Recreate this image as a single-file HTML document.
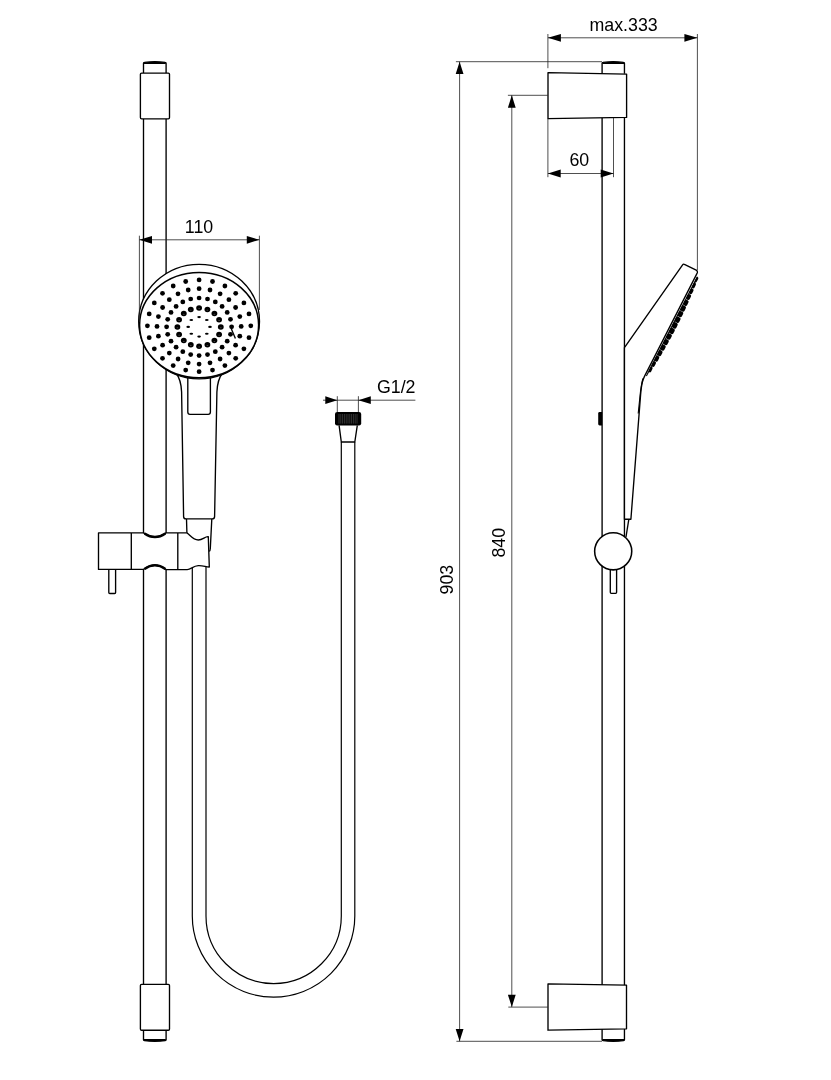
<!DOCTYPE html>
<html><head><meta charset="utf-8"><title>Shower rail dimensions</title>
<style>html,body{margin:0;padding:0;background:#fff}svg{display:block;filter:grayscale(1)}text{font-family:"Liberation Sans",Arial,sans-serif;font-size:17.8px;fill:#000}.k{fill:none;stroke:#000;stroke-width:1.35;stroke-linejoin:round;stroke-linecap:butt}.kw{fill:#fff;stroke:#000;stroke-width:1.35;stroke-linejoin:round}.t{fill:none;stroke:#222;stroke-width:0.8}.a{fill:#000;stroke:none}</style></head><body>
<svg width="831" height="1080" viewBox="0 0 831 1080">
<rect width="831" height="1080" fill="#fff"/>
<g id="front">
<path class="k" d="M143.5 118.8V532.9M166.1 118.8V532.9M143.5 569.4V984.4M166.1 569.4V984.4"/>
<path class="kw" d="M143.5 73.2V63.2Q143.5 62.5 144.4 62.4Q154.8 60.9 165.2 62.4Q166.1 62.5 166.1 63.2V73.2"/>
<path class="a" d="M143.8 62.5Q154.8 60.8 165.79999999999998 62.5V63.9H143.8Z"/>
<rect class="kw" x="140.4" y="73.1" width="29.1" height="45.7" rx="1.2"/>
<path class="kw" d="M143.5 1030.2V1039.7Q143.5 1040.4 144.4 1040.5Q154.8 1042.0 165.2 1040.5Q166.1 1040.4 166.1 1039.7V1030.2"/>
<path class="a" d="M143.8 1040.4Q154.8 1042.1000000000001 165.79999999999998 1040.4V1039.0H143.8Z"/>
<rect class="kw" x="140.4" y="984.4" width="29.1" height="45.8" rx="1.2"/>
<path class="k" style="stroke-width:1.2" d="M192.3 568V915.9A81.25 81.25 0 0 0 354.8 915.9V442M206.0 566.5V915.9A67.65 67.65 0 0 0 341.3 915.9V442"/>
<path class="k" d="M339.1 425.4L341.3 442H354.8L357.3 425.4"/>
<rect x="335" y="411.9" width="26.2" height="13.6" rx="2.2" fill="#000"/>
<path d="M339.0 414V423.6M340.8 414V423.6M342.6 414V423.6M344.4 414V423.6M346.2 414V423.6M348.0 414V423.6M349.8 414V423.6M351.6 414V423.6M353.4 414V423.6M355.2 414V423.6M357.0 414V423.6" stroke="#4a4a4a" stroke-width="0.7" fill="none"/>
<path class="kw" d="M175.6 372.5C180 378 181.3 384 181.6 392L183.6 516.6Q183.7 518.9 186 518.9H212.2Q214.5 518.9 214.6 516.6L216.9 392C217.2 384 218.6 378 222.8 372.5Z"/>
<path class="k" d="M187.8 374V412Q187.8 414.3 190 414.3H208.2Q210.4 414.3 210.4 412V374"/>
<path class="k" d="M186.5 519L186.9 532.8M211.8 519L210.3 548.5Q210.2 551 209.2 551.3"/>
<ellipse class="kw" cx="199.1" cy="321.6" rx="60.4" ry="57.3"/>
<ellipse class="kw" cx="199.1" cy="325.1" rx="59.5" ry="52.7" style="stroke-width:1.5"/>
<g class="a"><ellipse cx="199.1" cy="279.9" rx="2.4" ry="2.4"/><ellipse cx="212.5" cy="281.5" rx="2.4" ry="2.4"/><ellipse cx="224.9" cy="286.0" rx="2.4" ry="2.4"/><ellipse cx="235.7" cy="293.3" rx="2.4" ry="2.4"/><ellipse cx="243.9" cy="302.9" rx="2.4" ry="2.4"/><ellipse cx="249.0" cy="313.9" rx="2.4" ry="2.4"/><ellipse cx="250.8" cy="325.8" rx="2.4" ry="2.4"/><ellipse cx="249.0" cy="337.7" rx="2.4" ry="2.4"/><ellipse cx="243.9" cy="348.8" rx="2.4" ry="2.4"/><ellipse cx="235.7" cy="358.3" rx="2.4" ry="2.4"/><ellipse cx="224.9" cy="365.6" rx="2.4" ry="2.4"/><ellipse cx="212.5" cy="370.1" rx="2.4" ry="2.4"/><ellipse cx="199.1" cy="371.7" rx="2.4" ry="2.4"/><ellipse cx="185.7" cy="370.1" rx="2.4" ry="2.4"/><ellipse cx="173.2" cy="365.6" rx="2.4" ry="2.4"/><ellipse cx="162.5" cy="358.3" rx="2.4" ry="2.4"/><ellipse cx="154.3" cy="348.8" rx="2.4" ry="2.4"/><ellipse cx="149.2" cy="337.7" rx="2.4" ry="2.4"/><ellipse cx="147.4" cy="325.8" rx="2.4" ry="2.4"/><ellipse cx="149.2" cy="313.9" rx="2.4" ry="2.4"/><ellipse cx="154.3" cy="302.9" rx="2.4" ry="2.4"/><ellipse cx="162.5" cy="293.3" rx="2.4" ry="2.4"/><ellipse cx="173.2" cy="286.0" rx="2.4" ry="2.4"/><ellipse cx="185.7" cy="281.5" rx="2.4" ry="2.4"/><ellipse cx="199.1" cy="288.7" rx="2.4" ry="2.4"/><ellipse cx="210.0" cy="290.0" rx="2.4" ry="2.4"/><ellipse cx="220.1" cy="293.8" rx="2.4" ry="2.4"/><ellipse cx="228.9" cy="299.7" rx="2.4" ry="2.4"/><ellipse cx="235.6" cy="307.5" rx="2.4" ry="2.4"/><ellipse cx="239.8" cy="316.6" rx="2.4" ry="2.4"/><ellipse cx="241.2" cy="326.4" rx="2.4" ry="2.4"/><ellipse cx="239.8" cy="336.2" rx="2.4" ry="2.4"/><ellipse cx="235.6" cy="345.2" rx="2.4" ry="2.4"/><ellipse cx="228.9" cy="353.1" rx="2.4" ry="2.4"/><ellipse cx="220.1" cy="359.0" rx="2.4" ry="2.4"/><ellipse cx="210.0" cy="362.8" rx="2.4" ry="2.4"/><ellipse cx="199.1" cy="364.1" rx="2.4" ry="2.4"/><ellipse cx="188.2" cy="362.8" rx="2.4" ry="2.4"/><ellipse cx="178.1" cy="359.0" rx="2.4" ry="2.4"/><ellipse cx="169.3" cy="353.1" rx="2.4" ry="2.4"/><ellipse cx="162.6" cy="345.2" rx="2.4" ry="2.4"/><ellipse cx="158.4" cy="336.2" rx="2.4" ry="2.4"/><ellipse cx="157.0" cy="326.4" rx="2.4" ry="2.4"/><ellipse cx="158.4" cy="316.6" rx="2.4" ry="2.4"/><ellipse cx="162.6" cy="307.5" rx="2.4" ry="2.4"/><ellipse cx="169.3" cy="299.7" rx="2.4" ry="2.4"/><ellipse cx="178.0" cy="293.8" rx="2.4" ry="2.4"/><ellipse cx="188.2" cy="290.0" rx="2.4" ry="2.4"/><ellipse cx="199.1" cy="298.0" rx="2.4" ry="2.35"/><ellipse cx="207.5" cy="299.0" rx="2.4" ry="2.35"/><ellipse cx="215.3" cy="301.9" rx="2.4" ry="2.35"/><ellipse cx="222.1" cy="306.4" rx="2.4" ry="2.35"/><ellipse cx="227.2" cy="312.4" rx="2.4" ry="2.35"/><ellipse cx="230.5" cy="319.3" rx="2.4" ry="2.35"/><ellipse cx="231.6" cy="326.8" rx="2.4" ry="2.35"/><ellipse cx="230.5" cy="334.3" rx="2.4" ry="2.35"/><ellipse cx="227.2" cy="341.2" rx="2.4" ry="2.35"/><ellipse cx="222.1" cy="347.2" rx="2.4" ry="2.35"/><ellipse cx="215.3" cy="351.7" rx="2.4" ry="2.35"/><ellipse cx="207.5" cy="354.6" rx="2.4" ry="2.35"/><ellipse cx="199.1" cy="355.6" rx="2.4" ry="2.35"/><ellipse cx="190.7" cy="354.6" rx="2.4" ry="2.35"/><ellipse cx="182.8" cy="351.7" rx="2.4" ry="2.35"/><ellipse cx="176.1" cy="347.2" rx="2.4" ry="2.35"/><ellipse cx="171.0" cy="341.2" rx="2.4" ry="2.35"/><ellipse cx="167.7" cy="334.3" rx="2.4" ry="2.35"/><ellipse cx="166.6" cy="326.8" rx="2.4" ry="2.35"/><ellipse cx="167.7" cy="319.3" rx="2.4" ry="2.35"/><ellipse cx="171.0" cy="312.4" rx="2.4" ry="2.35"/><ellipse cx="176.1" cy="306.4" rx="2.4" ry="2.35"/><ellipse cx="182.8" cy="301.9" rx="2.4" ry="2.35"/><ellipse cx="190.7" cy="299.0" rx="2.4" ry="2.35"/><ellipse cx="199.1" cy="307.9" rx="2.9" ry="2.75"/><ellipse cx="207.4" cy="309.4" rx="2.9" ry="2.75"/><ellipse cx="214.4" cy="313.5" rx="2.9" ry="2.75"/><ellipse cx="219.1" cy="319.7" rx="2.9" ry="2.75"/><ellipse cx="220.8" cy="327.1" rx="2.9" ry="2.75"/><ellipse cx="219.1" cy="334.4" rx="2.9" ry="2.75"/><ellipse cx="214.4" cy="340.6" rx="2.9" ry="2.75"/><ellipse cx="207.4" cy="344.7" rx="2.9" ry="2.75"/><ellipse cx="199.1" cy="346.2" rx="2.9" ry="2.75"/><ellipse cx="190.8" cy="344.7" rx="2.9" ry="2.75"/><ellipse cx="183.8" cy="340.6" rx="2.9" ry="2.75"/><ellipse cx="179.1" cy="334.4" rx="2.9" ry="2.75"/><ellipse cx="177.4" cy="327.1" rx="2.9" ry="2.75"/><ellipse cx="179.1" cy="319.7" rx="2.9" ry="2.75"/><ellipse cx="183.8" cy="313.5" rx="2.9" ry="2.75"/><ellipse cx="190.8" cy="309.4" rx="2.9" ry="2.75"/></g>
<g fill="#666"><ellipse cx="199.1" cy="308.6" rx="1" ry="0.35"/><ellipse cx="207.4" cy="310.1" rx="1" ry="0.35"/><ellipse cx="214.4" cy="314.2" rx="1" ry="0.35"/><ellipse cx="219.1" cy="320.4" rx="1" ry="0.35"/><ellipse cx="220.8" cy="327.8" rx="1" ry="0.35"/><ellipse cx="219.1" cy="335.1" rx="1" ry="0.35"/><ellipse cx="214.4" cy="341.3" rx="1" ry="0.35"/><ellipse cx="207.4" cy="345.4" rx="1" ry="0.35"/><ellipse cx="199.1" cy="346.9" rx="1" ry="0.35"/><ellipse cx="190.8" cy="345.4" rx="1" ry="0.35"/><ellipse cx="183.8" cy="341.3" rx="1" ry="0.35"/><ellipse cx="179.1" cy="335.1" rx="1" ry="0.35"/><ellipse cx="177.4" cy="327.8" rx="1" ry="0.35"/><ellipse cx="179.1" cy="320.4" rx="1" ry="0.35"/><ellipse cx="183.8" cy="314.2" rx="1" ry="0.35"/><ellipse cx="190.8" cy="310.1" rx="1" ry="0.35"/></g>
<g class="a"><ellipse cx="199.1" cy="317.1" rx="1.85" ry="1.05"/><ellipse cx="206.8" cy="320.0" rx="1.85" ry="1.05"/><ellipse cx="210.0" cy="326.9" rx="1.85" ry="1.05"/><ellipse cx="206.8" cy="333.8" rx="1.85" ry="1.05"/><ellipse cx="199.1" cy="336.6" rx="1.85" ry="1.05"/><ellipse cx="191.3" cy="333.8" rx="1.85" ry="1.05"/><ellipse cx="188.2" cy="326.9" rx="1.85" ry="1.05"/><ellipse cx="191.3" cy="320.0" rx="1.85" ry="1.05"/></g>
<path class="k" d="M231.4 329L235.4 338.4"/>
<path class="kw" d="M98.5 532.9H143.5Q155 541 166.1 532.9H186.9C190 535 193 540 198.3 540C203 540 205 536.2 208.3 536.7L209.3 567C205 566.6 203 565.4 198.3 565.6C193 565.8 191 569.6 187.2 569.6H166.1Q155 561 143.5 569.4H98.5Z"/>
<path class="k" style="stroke-width:2.4" d="M144.5 533.4Q155 540.6 165.4 533.4M144.5 569Q155 561.6 165.4 569"/>
<path class="k" d="M131.3 532.9V569.4M177.8 532.9V569.4"/>
<path class="k" d="M108.8 569.4V592.5Q108.8 593.5 109.8 593.5H114.6Q115.6 593.5 115.6 592.5V569.4"/>
</g>
<g id="dims">
<path class="t" d="M139.4 235.7V322M259.4 235.7V310M139.4 239.8H259.4"/>
<path class="a" d="M139.4 239.8L152.0 235.9V243.70000000000002ZM259.4 239.8L246.79999999999998 235.9V243.70000000000002Z"/>
<text x="199.0" y="232.6" text-anchor="middle">110</text>
<path class="t" d="M337.3 396.2V412M358.4 396.2V412M323 400.2H415.4"/>
<path class="a" d="M337.3 400.2L325.3 396.3V404.09999999999997ZM358.4 400.2L370.79999999999995 396.3V404.09999999999997Z"/>
<text x="396.2" y="392.8" text-anchor="middle">G1/2</text>
</g>
<g id="side">
<path class="k" d="M602.1 118V985M624.45 118V985"/>
<path class="kw" d="M602.1 73.8V63.2Q602.1 62.5 603.0 62.4Q613.2750000000001 60.9 623.5500000000001 62.4Q624.45 62.5 624.45 63.2V73.8"/>
<path class="a" d="M602.4 62.5Q613.2750000000001 60.8 624.1500000000001 62.5V63.9H602.4Z"/>
<path class="kw" d="M548 72.7L626.6 74.1V117.4L548 118.6Z"/>
<path class="kw" d="M602.1 1029V1039.8Q602.1 1040.5 603.0 1040.6Q613.2750000000001 1042.1 623.5500000000001 1040.6Q624.45 1040.5 624.45 1039.8V1029"/>
<path class="a" d="M602.4 1040.5Q613.2750000000001 1042.2 624.1500000000001 1040.5V1039.1H602.4Z"/>
<path class="kw" d="M548 983.8L626.5 985.2V1028.8L548 1030.2Z"/>
<path class="a" d="M602.1 412H599.6Q598.2 412 598.2 413.4V424Q598.2 425.4 599.6 425.4H602.1Z"/>
<path class="kw" d="M624.45 347.6L682.6 264.8Q683.3 263.8 684.4 264.4L696.2 270.2Q697.9 271.2 697.2 273L696.4 274.6L644.6 376.1C643.4 378.5 642.8 380.5 642.4 382C641.4 386 641 390 640.6 394.6L630.9 519.2H624.45Z"/>
<path class="k" style="stroke-width:1.1" d="M642.9 378.5C640.9 386 640.4 392 639.8 398L638.2 413.5"/>
<path class="k" style="stroke-width:1.1" d="M697.4 276.8L646.4 376.0"/>
<g class="a"><rect x="-3.00" y="-1.70" width="6.0" height="2.10" rx="1.7" transform="translate(695.96 279.60) rotate(117.21)"/><rect x="-3.00" y="-2.34" width="6.0" height="2.74" rx="1.7" transform="translate(693.08 285.20) rotate(117.21)"/><rect x="-3.00" y="-2.90" width="6.0" height="3.30" rx="1.7" transform="translate(690.20 290.81) rotate(117.21)"/><rect x="-3.00" y="-3.38" width="6.0" height="3.78" rx="1.7" transform="translate(687.32 296.41) rotate(117.21)"/><rect x="-3.00" y="-3.78" width="6.0" height="4.18" rx="1.7" transform="translate(684.44 302.01) rotate(117.21)"/><rect x="-3.00" y="-4.09" width="6.0" height="4.49" rx="1.7" transform="translate(681.56 307.62) rotate(117.21)"/><rect x="-3.00" y="-4.32" width="6.0" height="4.72" rx="1.7" transform="translate(678.68 313.22) rotate(117.21)"/><rect x="-3.00" y="-4.48" width="6.0" height="4.88" rx="1.7" transform="translate(675.80 318.82) rotate(117.21)"/><rect x="-3.00" y="-4.54" width="6.0" height="4.94" rx="1.7" transform="translate(672.92 324.42) rotate(117.21)"/><rect x="-3.00" y="-4.53" width="6.0" height="4.93" rx="1.7" transform="translate(670.03 330.03) rotate(117.21)"/><rect x="-3.00" y="-4.44" width="6.0" height="4.84" rx="1.7" transform="translate(667.15 335.63) rotate(117.21)"/><rect x="-3.00" y="-4.26" width="6.0" height="4.66" rx="1.7" transform="translate(664.27 341.23) rotate(117.21)"/><rect x="-3.00" y="-4.01" width="6.0" height="4.41" rx="1.7" transform="translate(661.39 346.84) rotate(117.21)"/><rect x="-3.00" y="-3.67" width="6.0" height="4.07" rx="1.7" transform="translate(658.51 352.44) rotate(117.21)"/><rect x="-3.00" y="-3.25" width="6.0" height="3.65" rx="1.7" transform="translate(655.63 358.04) rotate(117.21)"/><rect x="-3.00" y="-2.75" width="6.0" height="3.15" rx="1.7" transform="translate(652.75 363.65) rotate(117.21)"/><rect x="-3.00" y="-2.16" width="6.0" height="2.56" rx="1.7" transform="translate(649.87 369.25) rotate(117.21)"/></g>
<path class="k" d="M628.8 519.4L626 537"/>
<path class="k" d="M610.3 569V592.3Q610.3 593.3 611.3 593.3H615.6Q616.6 593.3 616.6 592.3V569"/>
<circle class="kw" cx="613.2" cy="551.3" r="18.55" style="stroke-width:1.55"/>
</g>
<g id="dims2">
<path class="t" d="M547.9 34V68.2M697.4 34V270M547.9 37.8H697.4"/>
<path class="a" d="M547.9 37.8L560.9 33.9V41.699999999999996ZM697.4 37.8L684.4 33.9V41.699999999999996Z"/>
<text x="623.6" y="30.6" text-anchor="middle">max.333</text>
<path class="t" d="M547.9 118.5V177.2M613.5 118V177.2M547.9 173.5H613.5"/>
<path class="a" d="M547.9 173.5L560.6999999999999 169.6V177.4ZM613.5 173.5L600.7 169.6V177.4Z"/>
<text x="579.3" y="166.4" text-anchor="middle">60</text>
<path class="t" d="M455.9 61.7H602M456.4 1041.3H602M459.6 61.7V1041.3"/>
<path class="a" d="M459.6 61.7L455.70000000000005 74.10000000000001H463.5ZM459.6 1041.3L455.70000000000005 1028.8999999999999H463.5Z"/>
<text transform="translate(452.5 579.6) rotate(-90)" text-anchor="middle">903</text>
<path class="t" d="M507.9 95.3H547.9M508.3 1007.1H547.9M511.8 95.3V1007.1"/>
<path class="a" d="M511.8 95.3L507.90000000000003 107.7H515.7ZM511.8 1007.1L507.90000000000003 994.7H515.7Z"/>
<text transform="translate(504.5 542.7) rotate(-90)" text-anchor="middle">840</text>
</g>
</svg></body></html>
